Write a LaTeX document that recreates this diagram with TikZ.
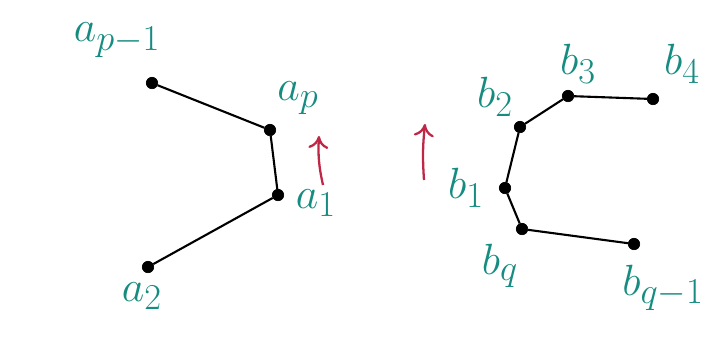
\documentclass[tikz,border=0pt]{standalone}
\usetikzlibrary{arrows.meta}
\definecolor{lbl}{RGB}{22,140,128}
\definecolor{dir}{RGB}{190,40,70}
\tikzset{vtx/.style={circle,fill=black,draw=black,inner sep=0pt,minimum size=6.5pt},
  link/.style={black,line width=1.2pt},
  tag/.style={text=lbl,font=\fontsize{30}{34}\selectfont},
  turn/.style={-{To[length=2.5mm,width=4mm]},dir,line width=1.3pt}}

\begin{document}
\begin{tikzpicture}[x=0.02cm,y=-0.02cm]
\useasboundingbox (0,0) rectangle (719,339);
% left chain
\node[vtx] (apm) at (152,83) {};
\node[vtx] (ap) at (270,130) {};
\node[vtx] (a1) at (278,195) {};
\node[vtx] (a2) at (148,267) {};
\draw[link] (apm) -- (ap) -- (a1) -- (a2);
\node[tag] (lapm) at (117,40) {$a_{p-1}$};
\node[tag] (lap) at (298,98) {$a_{p}$};
\node[tag] (la1) at (316,203) {$a_{1}$};
\node[tag] (la2) at (142,296) {$a_{2}$};
\coordinate (sa) at (323,185);
\coordinate (ea) at (319,136);
\draw[turn] (sa) to[bend left=8] (ea);
% right chain
\node[vtx] (b1) at (505,188) {};
\node[vtx] (b2) at (520,127) {};
\node[vtx] (b3) at (568,96) {};
\node[vtx] (b4) at (653,99) {};
\node[vtx] (bq) at (522,229) {};
\node[vtx] (bqm) at (634,244) {};
\draw[link] (b4) -- (b3) -- (b2) -- (b1) -- (bq) -- (bqm);
\node[tag] (lb1) at (466,188) {$b_{1}$};
\node[tag] (lb2) at (495,97) {$b_{2}$};
\node[tag] (lb3) at (578,64) {$b_{3}$};
\node[tag] (lb4) at (682,64) {$b_{4}$};
\node[tag] (lbq) at (500,266) {$b_{q}$};
\node[tag] (lbqm) at (663,288) {$b_{q-1}$};
\coordinate (sb) at (424,180);
\coordinate (eb) at (425,124);
\draw[turn] (sb) to[bend left=5] (eb);
\end{tikzpicture}
\end{document}
